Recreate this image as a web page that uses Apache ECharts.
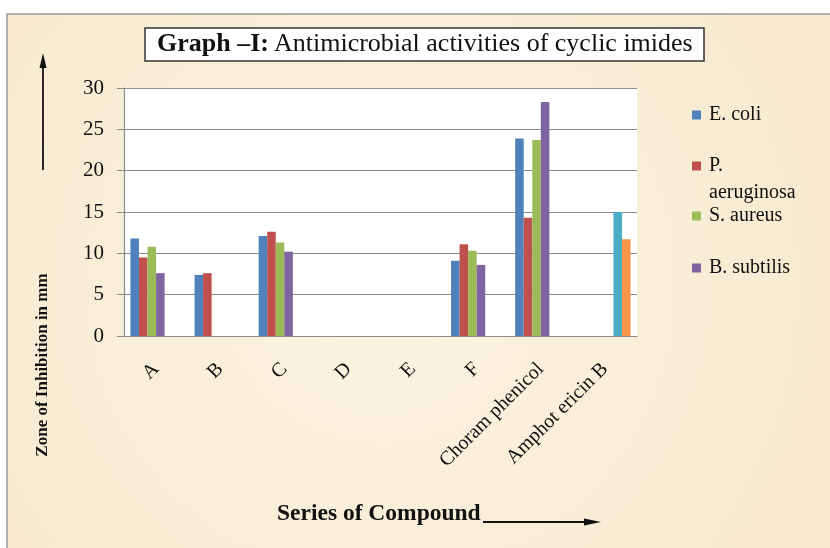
<!DOCTYPE html>
<html>
<head>
<meta charset="utf-8">
<script src="https://cdn.jsdelivr.net/npm/echarts@6/dist/echarts.min.js"></script>
<style>
  html, body { margin: 0; padding: 0; background: #ffffff; }
  #chart { width: 830px; height: 548px; }
</style>
</head>
<body>
<div id="chart"></div>
<script>
// Compounds on the category axis
const compounds = ['A', 'B', 'C', 'D', 'E', 'F', 'Choram phenicol', 'Amphot ericin B'];

// Zone of inhibition (mm) per organism; null = no activity
const eColi       = [11.8, 7.4, 12.1, null, null, 9.1, 23.9, null];
const pAeruginosa = [9.5, 7.6, 12.6, null, null, 11.1, 14.3, null];
const sAureus     = [10.8, null, 11.3, null, null, 10.3, 23.7, null];
const bSubtilis   = [7.6, null, 10.2, null, null, 8.6, 28.3, null];
const standardI   = [null, null, null, null, null, null, null, 15.0];
const standardII  = [null, null, null, null, null, null, null, 11.7];

const yTicks = { min: 0, max: 30, interval: 5 };

const FONT = "'Liberation Serif', 'Times New Roman', serif";
const colors = ['#4F81BD', '#C0504D', '#9BBB59', '#8064A2', '#4BACC6', '#F79646'];

const seriesDefs = [
  ['E. coli', eColi],
  ['P. aeruginosa', pAeruginosa],
  ['S. aureus', sAureus],
  ['B. subtilis', bSubtilis],
  ['Standard I', standardI],
  ['Standard II', standardII]
];

// one legend block per organism so each entry sits at its own height
const LEG_FS = 20;
const legendRows = [
  { name: 'E. coli', label: 'E. coli', mid: 115 },
  { name: 'P. aeruginosa', label: 'P.', mid: 166 },
  { name: 'S. aureus', label: 'S. aureus', mid: 216 },
  { name: 'B. subtilis', label: 'B. subtilis', mid: 268 }
];

const chart = echarts.init(document.getElementById('chart'), null, { renderer: 'canvas' });

function arrowHead(tip, dir, len, half) {
  if (dir === 'up') {
    return [[tip[0], tip[1]], [tip[0] - half, tip[1] + len], [tip[0] + half, tip[1] + len]];
  }
  return [[tip[0], tip[1]], [tip[0] - len, tip[1] - half], [tip[0] - len, tip[1] + half]];
}

chart.setOption({
  animation: false,
  color: colors,
  title: {
    left: 145,
    top: 27,
    padding: [4, 12, 4, 12],
    backgroundColor: '#ffffff',
    borderColor: '#333333',
    borderWidth: 1.5,
    text: '{b|Graph –I:} {n|Antimicrobial activities of cyclic imides}',
    textStyle: {
      fontWeight: 'normal',
      rich: {
        b: { fontFamily: FONT, fontSize: 26, fontWeight: 'bold', color: '#111', lineHeight: 27 },
        n: { fontFamily: FONT, fontSize: 26, fontWeight: 'normal', color: '#111', lineHeight: 27 }
      }
    }
  },
  legend: legendRows.map(r => ({
    data: [r.name],
    left: 692,
    top: r.mid - LEG_FS / 2,
    padding: 0,
    orient: 'vertical',
    icon: 'rect',
    itemWidth: 9,
    itemHeight: 9,
    selectedMode: false,
    formatter: () => r.label,
    textStyle: { fontFamily: FONT, fontSize: LEG_FS, lineHeight: LEG_FS, color: '#111', padding: [0, 0, 0, 3] }
  })),
  grid: {
    left: 124,
    right: 193,
    top: 88,
    bottom: 212,
    show: true,
    backgroundColor: '#ffffff',
    borderWidth: 0
  },
  xAxis: {
    type: 'category',
    data: compounds,
    axisLine: { lineStyle: { color: '#8c8c8c', width: 1.2 } },
    axisTick: { show: false },
    axisLabel: {
      rotate: 45,
      margin: 30,
      interval: 0,
      fontFamily: FONT,
      fontSize: 20,
      color: '#111'
    }
  },
  yAxis: {
    type: 'value',
    min: yTicks.min,
    max: yTicks.max,
    interval: yTicks.interval,
    axisLine: { show: true, lineStyle: { color: '#8c8c8c', width: 1.2 } },
    axisTick: { show: true, length: 7, lineStyle: { color: '#8c8c8c' } },
    splitLine: { lineStyle: { color: '#8c8c8c', width: 1.2 } },
    axisLabel: {
      margin: 20,
      fontFamily: FONT,
      fontSize: 21,
      color: '#111'
    }
  },
  series: seriesDefs.map(([name, values]) => ({
    name,
    type: 'bar',
    data: values,
    barGap: '0%',
    barCategoryGap: '20%'
  })),
  graphic: [
    // page panel behind the chart
    {
      type: 'rect', z: -10, silent: true,
      shape: { x: 7, y: 14, width: 830, height: 540 },
      style: { fill: '#F8EDD6', stroke: '#9a9a9a', lineWidth: 1.5 }
    },
    {
      type: 'rect', z: -9, silent: true,
      shape: { x: 8, y: 15, width: 830, height: 540 },
      style: {
        fill: {
          type: 'radial', x: 0.45, y: 0.5, r: 0.85,
          colorStops: [
            { offset: 0, color: '#FBF3E3' },
            { offset: 1, color: '#F7EAD0' }
          ]
        }
      }
    },
    // second line of the P. aeruginosa legend entry
    {
      type: 'text', x: 709, y: 193, silent: true,
      style: { text: 'aeruginosa', font: LEG_FS + 'px ' + FONT, fill: '#111', verticalAlign: 'middle' }
    },
    // y-axis title and arrow
    {
      type: 'text', silent: true,
      x: 43, y: 365, rotation: Math.PI / 2,
      style: {
        text: 'Zone of Inhibition in mm',
        font: 'bold 17px ' + FONT,
        fill: '#111',
        align: 'center',
        verticalAlign: 'middle'
      }
    },
    {
      type: 'line', silent: true,
      shape: { x1: 43, y1: 170, x2: 43, y2: 62 },
      style: { stroke: '#111', lineWidth: 1.8 }
    },
    {
      type: 'polygon', silent: true,
      shape: { points: arrowHead([43, 53], 'up', 15, 3.5) },
      style: { fill: '#111' }
    },
    // x-axis title and arrow
    {
      type: 'text', silent: true,
      x: 277, y: 514,
      style: {
        text: 'Series of Compound',
        font: 'bold 23.5px ' + FONT,
        fill: '#111',
        align: 'left',
        verticalAlign: 'middle'
      }
    },
    {
      type: 'line', silent: true,
      shape: { x1: 483, y1: 522, x2: 590, y2: 522 },
      style: { stroke: '#111', lineWidth: 1.8 }
    },
    {
      type: 'polygon', silent: true,
      shape: { points: arrowHead([601, 522], 'right', 17, 3.5) },
      style: { fill: '#111' }
    }
  ]
});
</script>
</body>
</html>
